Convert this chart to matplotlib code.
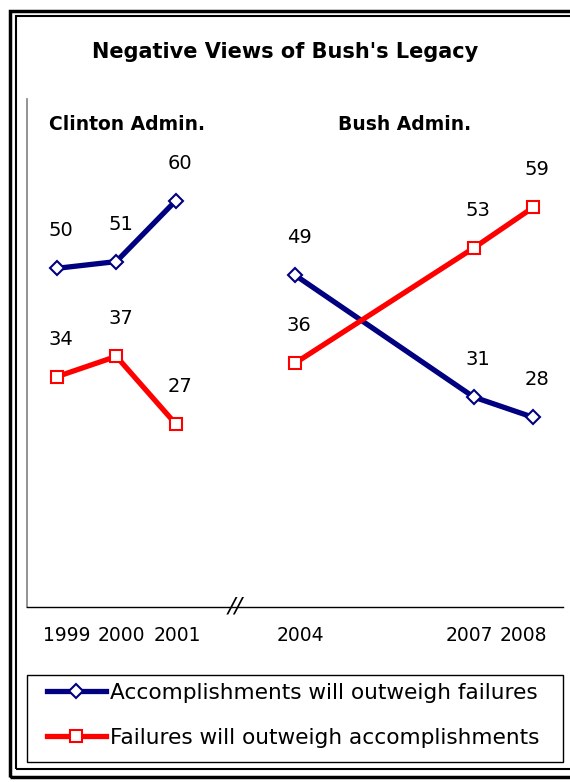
import matplotlib
matplotlib.use("Agg")
import matplotlib.pyplot as plt
from matplotlib.patches import Rectangle
from matplotlib.lines import Line2D
from matplotlib.transforms import ScaledTranslation

# ---- data ----
years = ["1999", "2000", "2001", "2004", "2007", "2008"]
x_pos = [0, 1, 2, 4, 7, 8]          # compressed year scale (break between 2001 and 2004)
accomplishments = [50, 51, 60, 49, 31, 28]
failures = [34, 37, 27, 36, 53, 59]
clinton_idx = [0, 1, 2]
bush_idx = [3, 4, 5]
series_names = ["Accomplishments will outweigh failures",
                "Failures will outweigh accomplishments"]
title = "Negative Views of Bush's Legacy"
panel_titles = ["Clinton Admin.", "Bush Admin."]

BLUE = "#000080"
RED = "#FF0000"

plt.rcParams['font.family'] = ['DejaVu Sans']

W, H = 570, 782
fig = plt.figure(figsize=(W / 100, H / 100), dpi=100)

def fx(px):
    return px / W

def fy(py):
    return 1 - py / H

ax = fig.add_axes([fx(27), fy(607), fx(563) - fx(27), fy(99) - fy(607)])
ax.set_xlim(-0.5, 8.5)
ax.set_ylim(0, 75)

for spine in ["top", "right"]:
    ax.spines[spine].set_visible(False)
ax.spines["left"].set_color("#808080")
ax.spines["left"].set_linewidth(1.2)
ax.spines["bottom"].set_color("black")
ax.spines["bottom"].set_linewidth(1.0)
ax.set_yticks([])
ax.set_xticks(x_pos)
ax.set_xticklabels(years, fontsize=13.5)
ax.tick_params(axis="x", length=0, pad=14)
# nudge tick labels slightly, as in the original layout
label_nudge_px = [10, 5, 1, 5, -4, -10]
for lab, dx in zip(ax.get_xticklabels(), label_nudge_px):
    lab.set_transform(lab.get_transform() + ScaledTranslation(dx / 100, 0, fig.dpi_scale_trans))

handles = []
for vals, col, mk, name in [(accomplishments, BLUE, "D", series_names[0]),
                            (failures, RED, "s", series_names[1])]:
    ms = 7 if mk == "D" else 8
    for idx in (clinton_idx, bush_idx):
        ax.plot([x_pos[i] for i in idx], [vals[i] for i in idx], color=col, lw=3.8,
                marker=mk, ms=ms, mfc="white", mec=col, mew=1.5, solid_capstyle="butt",
                zorder=3)
    handles.append(Line2D([], [], color=col, lw=3.8, marker=mk, ms=ms, mfc="white",
                          mec=col, mew=1.5))
    for i, v in enumerate(vals):
        ax.annotate(str(v), (x_pos[i], v), xytext=(3, 27), textcoords="offset points",
                    ha="center", va="center", fontsize=14)

# axis break marker
ax.text(3, 0, "//", ha="center", va="center", fontsize=16, style="italic",
        transform=ax.transData, clip_on=False)

# titles
fig.text(0.5, fy(52), title, ha="center", va="center", fontsize=15, fontweight="bold")
fig.text(fx(127), fy(125), panel_titles[0], ha="center", va="center", fontsize=13.5,
         fontweight="bold")
fig.text(fx(405), fy(125), panel_titles[1], ha="center", va="center", fontsize=13.5,
         fontweight="bold")

# legend (frameless content + separate box)
leg = fig.legend(handles, series_names, loc="upper left",
                 bbox_to_anchor=(fx(47), fy(683)), bbox_transform=fig.transFigure,
                 borderaxespad=0, borderpad=0, fontsize=15.6, handlelength=2.7,
                 handletextpad=0.2, labelspacing=1.15, frameon=False)
fig.patches.append(Rectangle((fx(27), fy(762)), fx(563) - fx(27), fy(675) - fy(762),
                             transform=fig.transFigure, fill=False, ec="black", lw=1.0))

# double border frame
fig.patches.append(Rectangle((fx(10), fy(777)), fx(600) - fx(10), fy(11) - fy(777),
                             transform=fig.transFigure, fill=False, ec="black", lw=2.5))
fig.patches.append(Rectangle((fx(15.5), fy(769)), fx(595) - fx(15.5), fy(16) - fy(769),
                             transform=fig.transFigure, fill=False, ec="black", lw=1.5))

fig.savefig("out.png", dpi=100)
